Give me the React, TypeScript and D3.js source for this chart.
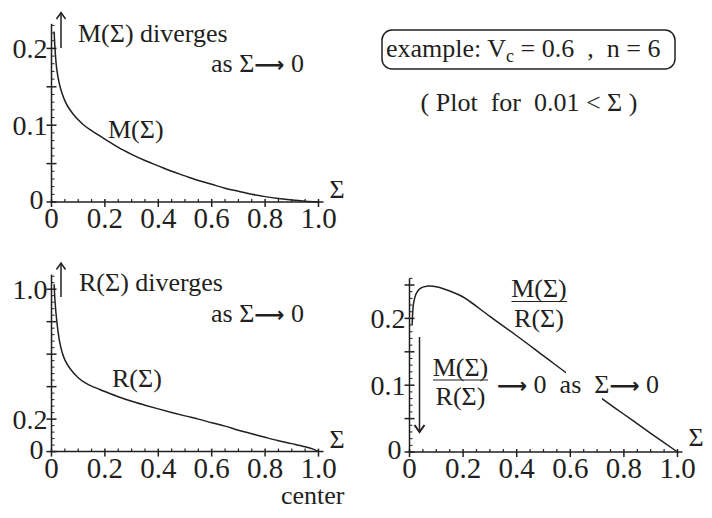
import React from 'react';
import * as d3 from 'd3';

// ---- data ----
const sigmaM = [0.01, 0.013, 0.02, 0.03, 0.04, 0.05, 0.06, 0.08, 0.1, 0.125, 0.15, 0.2, 0.25, 0.3, 0.35, 0.4, 0.45, 0.5, 0.55, 0.6, 0.65, 0.7, 0.75, 0.8, 0.85, 0.9, 0.95, 1.0];
const mValues = [0.222, 0.2, 0.172, 0.153, 0.141, 0.132, 0.125, 0.115, 0.107, 0.099, 0.093, 0.082, 0.071, 0.062, 0.054, 0.047, 0.040, 0.034, 0.028, 0.023, 0.018, 0.014, 0.010, 0.007, 0.0045, 0.0025, 0.001, 0];

const sigmaR = [0.01, 0.013, 0.02, 0.03, 0.04, 0.05, 0.07, 0.1, 0.125, 0.15, 0.2, 0.25, 0.3, 0.35, 0.4, 0.45, 0.5, 0.55, 0.6, 0.65, 0.7, 0.75, 0.8, 0.85, 0.9, 0.95, 0.98, 1.0];
const rValues = [1.03, 0.93, 0.8, 0.68, 0.61, 0.565, 0.51, 0.455, 0.425, 0.403, 0.37, 0.338, 0.31, 0.286, 0.263, 0.241, 0.22, 0.2, 0.178, 0.157, 0.132, 0.11, 0.088, 0.067, 0.049, 0.03, 0.015, 0];

const sigmaRatio = [0.01, 0.015, 0.025, 0.04, 0.07, 0.1, 0.15, 0.2, 0.3, 0.4, 0.5, 0.6, 0.7, 0.8, 0.9, 1.0];
const ratioValues = [0.19, 0.222, 0.237, 0.245, 0.2485, 0.2475, 0.241, 0.232, 0.203, 0.174, 0.144, 0.114, 0.085, 0.0565, 0.028, 0];

const xTickValues = [0, 0.2, 0.4, 0.6, 0.8, 1.0];
const xTickLabels = ['0', '0.2', '0.4', '0.6', '0.8', '1.0'];
const mTickValues = [0, 0.1, 0.2];
const mTickLabels = ['0', '0.1', '0.2'];
const rTickValues = [0, 0.2, 1.0];
const rTickLabels = ['0', '0.2', '1.0'];
const ratioTickValues = [0, 0.1, 0.2];
const ratioTickLabels = ['0', '0.1', '0.2'];

const FONT = "'Liberation Serif', 'Times New Roman', serif";
const INK = '#231f20';
const SP = '\u00A0';

type AxesProps = {
  x: d3.ScaleLinear<number, number>;
  y: d3.ScaleLinear<number, number>;
  yTop: number;
  yMajorStep: number;
  yMinorStep: number;
  yLabelVals: number[];
  yLabelText: string[];
  sigmaDy: number;
};

function Axes({ x, y, yTop, yMajorStep, yMinorStep, yLabelVals, yLabelText, sigmaDy }: AxesProps) {
  const x0 = x(0);
  const y0 = y(0);
  const xMajor = d3.range(0, 1.0001, 0.2);
  const xMinor = d3.range(0.05, 1.0, 0.05).filter((v) => Math.abs(v / 0.2 - Math.round(v / 0.2)) > 1e-6);
  const yMajor = d3.range(0, yTop + 1e-9, yMajorStep);
  const yMinor = d3.range(yMinorStep, yTop + 1e-9, yMinorStep).filter(
    (v) => Math.abs(v / yMajorStep - Math.round(v / yMajorStep)) > 1e-6
  );
  return (
    <g stroke={INK} strokeWidth={1.5} fill="none">
      <line x1={x0} x2={x(1) + 5} y1={y0} y2={y0} />
      <line x1={x0} x2={x0} y1={y0} y2={y(yTop)} />
      {xMajor.map((v) => (
        <line key={'xM' + v} x1={x(v)} x2={x(v)} y1={y0 - 3} y2={y0 + 5} />
      ))}
      {xMinor.map((v) => (
        <line key={'xm' + v} x1={x(v)} x2={x(v)} y1={y0 - 3} y2={y0} strokeWidth={1.2} />
      ))}
      {yMajor.map((v) => (
        <line key={'yM' + v} x1={x0 - 5} x2={x0 + 5} y1={y(v)} y2={y(v)} />
      ))}
      {yMinor.map((v) => (
        <line key={'ym' + v} x1={x0} x2={x0 + 3} y1={y(v)} y2={y(v)} strokeWidth={1} />
      ))}
      <g stroke="none" fill={INK} fontFamily={FONT}>
        {xTickValues.map((v, i) => (
          <text key={'xl' + v} x={x(v)} y={y0 + 26} textAnchor="middle" fontSize={29}>
            {xTickLabels[i]}
          </text>
        ))}
        {yLabelVals.map((v, i) => (
          <text
            key={'yl' + v}
            x={v === 0 ? x0 - 8 : x0 - 4}
            y={v === 0 ? y(v) + 7 : y(v) + 9.5}
            textAnchor="end"
            fontSize={28}
          >
            {yLabelText[i]}
          </text>
        ))}
        <text x={x(1) + 11} y={y0 + sigmaDy} fontSize={26}>Σ</text>
      </g>
    </g>
  );
}

function Curve({ x, y, xs, ys }: { x: any; y: any; xs: number[]; ys: number[] }) {
  const pts: [number, number][] = xs.map((s, i) => [s, ys[i]]);
  const line = d3
    .line<[number, number]>()
    .x((d) => x(d[0]))
    .y((d) => y(d[1]))
    .curve(d3.curveCatmullRom.alpha(0.5));
  return <path d={line(pts) || ''} fill="none" stroke={INK} strokeWidth={1.5} />;
}

function UpArrow({ x, y1, y2 }: { x: number; y1: number; y2: number }) {
  return (
    <g stroke={INK} strokeWidth={1.5} fill="none">
      <line x1={x} x2={x} y1={y1} y2={y2} />
      <path d={`M${x - 4.5},${y2 + 6.5} L${x},${y2} L${x + 4.5},${y2 + 6.5}`} />
    </g>
  );
}

function Arrow() {
  return <tspan fontFamily="'DejaVu Sans', sans-serif" fontWeight="bold" fontSize={21}>⟶</tspan>;
}

export default function App() {
  const xL = d3.scaleLinear().domain([0, 1]).range([51.5, 318.5]);
  const yM = d3.scaleLinear().domain([0, 0.2]).range([202, 48.4]);
  const yR = d3.scaleLinear().domain([0, 1]).range([451.6, 289.2]);
  const xRt = d3.scaleLinear().domain([0, 1]).range([409.5, 677.5]);
  const yRt = d3.scaleLinear().domain([0, 0.2]).range([452, 318.4]);

  return (
    <svg width={712} height={518} style={{ position: 'absolute', left: 0, top: 0, background: '#fff' }}>
      <rect x={0} y={0} width={712} height={518} fill="#fff" />
      {/* top-left: M(Σ) */}
      <Axes x={xL} y={yM} yTop={0.232} yMajorStep={0.05} yMinorStep={0.01} yLabelVals={mTickValues} yLabelText={mTickLabels} sigmaDy={-4} />
      <Curve x={xL} y={yM} xs={sigmaM} ys={mValues} />
      <UpArrow x={61} y1={48} y2={12.5} />
      <g fill={INK} fontFamily={FONT} fontSize={26}>
        <text x={78} y={42}>M(Σ) diverges</text>
        <text x={211} y={72}>as Σ<Arrow />{SP}0</text>
        <text x={108} y={138}>M(Σ)</text>
      </g>

      {/* bottom-left: R(Σ) */}
      <Axes x={xL} y={yR} yTop={1.09} yMajorStep={0.2} yMinorStep={0.04} yLabelVals={rTickValues} yLabelText={rTickLabels} sigmaDy={-4} />
      <Curve x={xL} y={yR} xs={sigmaR} ys={rValues} />
      <UpArrow x={61} y1={297} y2={263} />
      <g fill={INK} fontFamily={FONT} fontSize={26}>
        <text x={79} y={291}>R(Σ) diverges</text>
        <text x={211} y={322}>as Σ<Arrow />{SP}0</text>
        <text x={112} y={387}>R(Σ)</text>
        <text x={281} y={504}>center</text>
      </g>

      {/* bottom-right: M/R */}
      <Axes x={xRt} y={yRt} yTop={0.26} yMajorStep={0.05} yMinorStep={0.01} yLabelVals={ratioTickValues} yLabelText={ratioTickLabels} sigmaDy={-6} />
      <Curve x={xRt} y={yRt} xs={sigmaRatio} ys={ratioValues} />
      <rect x={566} y={370} width={36} height={30} fill="#fff" />
      <g stroke={INK} strokeWidth={1.5} fill="none">
        <line x1={419.5} x2={419.5} y1={337} y2={432} />
        <path d={`M${414.5},${425} L${419.5},${432} L${424.5},${425}`} strokeWidth={2} />
        <line x1={511.5} x2={567} y1={301.5} y2={301.5} strokeWidth={1.2} />
        <line x1={433} x2={488} y1={380} y2={380} strokeWidth={1.2} />
      </g>
      <g fill={INK} fontFamily={FONT} fontSize={26}>
        <text x={539} y={297} textAnchor="middle">M(Σ)</text>
        <text x={539} y={327} textAnchor="middle">R(Σ)</text>
        <text x={460.5} y={376} textAnchor="middle">M(Σ)</text>
        <text x={460.5} y={405} textAnchor="middle">R(Σ)</text>
        <text x={497} y={393}>
          <Arrow />{SP}0{SP}{SP}as{SP}{SP}Σ<Arrow />{SP}0
        </text>
      </g>

      {/* top-right notes */}
      <rect x={382} y={30} width={293} height={39} rx={10} ry={10} fill="none" stroke={INK} strokeWidth={1.5} />
      <g fill={INK} fontFamily={FONT} fontSize={26}>
        <text x={386} y={57}>
          example: V<tspan fontSize={18} dy={5}>c</tspan>
          <tspan dy={-5}>{`${SP}=${SP}0.6${SP}${SP},${SP}${SP}n${SP}=${SP}6`}</tspan>
        </text>
        <text x={529} y={111} textAnchor="middle">{`(${SP}Plot${SP}${SP}for${SP}${SP}0.01${SP}<${SP}Σ${SP})`}</text>
      </g>
    </svg>
  );
}
